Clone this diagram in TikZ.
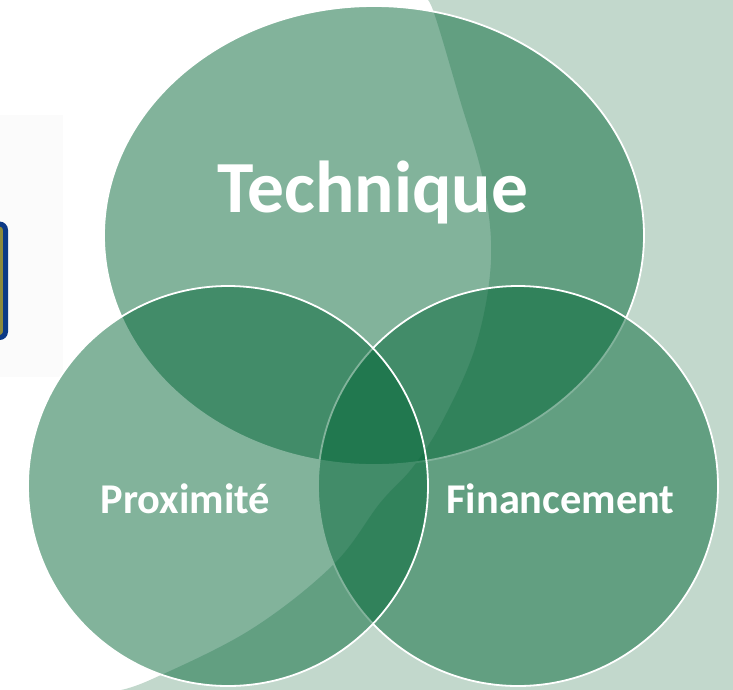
\documentclass[tikz,border=0pt]{standalone}
\usepackage{fontspec}
\setmainfont{Carlito}
\definecolor{vgreen}{RGB}{0,100,53}
\definecolor{bglight}{RGB}{194,216,204}
\definecolor{rblue}{RGB}{12,58,134}
\definecolor{rolive}{RGB}{140,138,60}
\definecolor{faintgray}{RGB}{251,251,251}
\tikzset{
  venn/.style={fill=vgreen, fill opacity=0.49, draw=white, draw opacity=1, line width=1.8pt},
  lbl/.style={text=white, font=\bfseries, anchor=base, inner sep=0pt},
}
\begin{document}
\begin{tikzpicture}[x=1pt,y=-1pt]
\useasboundingbox (0,0) rectangle (733,689);
\fill[white] (0,0) rectangle (733,689);
% light background shape
\fill[bglight] plot[smooth, tension=0.6] coordinates {(423,-2) (433,10) (460,100) (483,180) (491,260) (476,345) (443,420) (413,467) (380,503) (333,565) (250,630) (150,680) (115,691)} -- (735,691) -- (735,-2) -- cycle;
% faint panel and partial box on the left
\fill[faintgray] (0,115) rectangle (63,377);
\draw[rblue, line width=5pt, fill=rolive, rounded corners=6pt] (-60,224) rectangle (5.5,337.5);
% Venn shapes
\path[venn] (374,235.5) ellipse [x radius=270pt, y radius=229.5pt];
\path[venn] (518,486) circle [radius=200pt];
\path[venn] (228,486) circle [radius=200pt];
% labels
\node[lbl, font=\bfseries\fontsize{73.5}{73.5}\selectfont] (tech) at (373,212) {Technique};
\node[lbl, font=\bfseries\fontsize{42.4}{42.4}\selectfont] (prox) at (185.5,513) {Proximité};
\node[lbl, font=\bfseries\fontsize{42.4}{42.4}\selectfont] (fin) at (560.5,513) {Financement};
\end{tikzpicture}
\end{document}
